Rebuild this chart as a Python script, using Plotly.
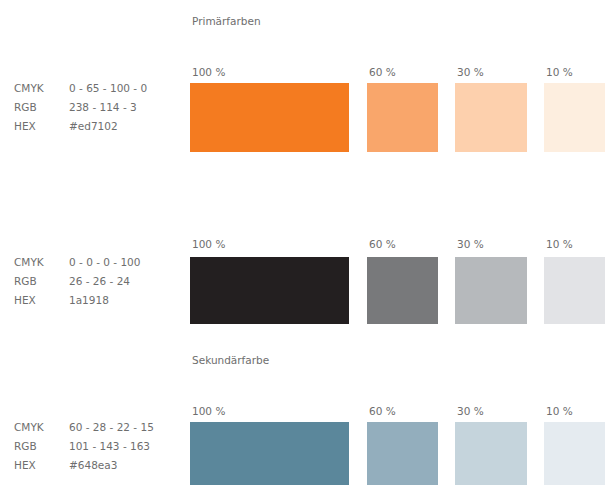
import plotly.graph_objects as go

# ---- data ----
tint_labels = ["100 %", "60 %", "30 %", "10 %"]
group_titles = ["Primärfarben", "", "Sekundärfarbe"]
cmyk_values = ["0 - 65 - 100 - 0", "0 - 0 - 0 - 100", "60 - 28 - 22 - 15"]
rgb_values = ["238 - 114 - 3", "26 - 26 - 24", "101 - 143 - 163"]
hex_values = ["#ed7102", "1a1918", "#648ea3"]
orange_tints = ["#f47b20", "#f9a66b", "#fdd0ad", "#fdeedf"]
black_tints = ["#231f20", "#78797b", "#b6b9bc", "#e2e3e6"]
blue_tints = ["#5b879b", "#93aebd", "#c5d4dc", "#e5ebf0"]
row_tints = [orange_tints, black_tints, blue_tints]
spec_names = ["CMYK", "RGB", "HEX"]

# ---- layout constants (page-pixel coordinates) ----
W, H = 605, 485
sw_left = [190, 367, 455, 544]
sw_right = [349, 438, 527, 620]
row_top = [83, 257, 422]
row_bottom = [152, 324, 500]
title_y = [21, None, 360]
label_y = [72, 244, 411]
spec_y0 = [88, 262, 427]
spec_dy = 19
font = dict(family="DejaVu Sans, sans-serif", size=10.5, color="#6e6e6e")

fig = go.Figure()
for r, tints in enumerate(row_tints):
    xs = [(a + b) / 2 for a, b in zip(sw_left, sw_right)]
    ws = [b - a for a, b in zip(sw_left, sw_right)]
    hs = [row_bottom[r] - row_top[r]] * len(tints)
    fig.add_trace(go.Bar(
        x=xs, y=hs, base=[row_top[r]] * len(tints), width=ws,
        marker=dict(color=tints, line=dict(width=0)),
        hoverinfo="skip", showlegend=False,
    ))

annotations = []
for r in range(3):
    if group_titles[r]:
        annotations.append(dict(x=190, y=title_y[r], text=group_titles[r],
                                xanchor="left", yanchor="middle", showarrow=False, font=font))
    for i, lab in enumerate(tint_labels):
        annotations.append(dict(x=sw_left[i], y=label_y[r], text=lab,
                                xanchor="left", yanchor="middle", showarrow=False, font=font))
    vals = [cmyk_values[r], rgb_values[r], hex_values[r]]
    for k, (nm, v) in enumerate(zip(spec_names, vals)):
        yy = spec_y0[r] + k * spec_dy
        annotations.append(dict(x=12, y=yy, text=nm, xanchor="left", yanchor="middle",
                                showarrow=False, font=font))
        annotations.append(dict(x=67, y=yy, text=v, xanchor="left", yanchor="middle",
                                showarrow=False, font=font))

fig.update_layout(
    template="none",
    width=W, height=H, margin=dict(l=0, r=0, t=0, b=0),
    paper_bgcolor="white", plot_bgcolor="white",
    barmode="overlay",
    xaxis=dict(range=[0, W], visible=False, fixedrange=True),
    yaxis=dict(range=[H, 0], visible=False, fixedrange=True),
    annotations=annotations,
)
fig.write_html(
    "out.html",
    config={"displayModeBar": False},
    post_script="document.body.style.margin='0';document.body.style.overflow='hidden';"
                "document.documentElement.style.overflow='hidden';",
)
